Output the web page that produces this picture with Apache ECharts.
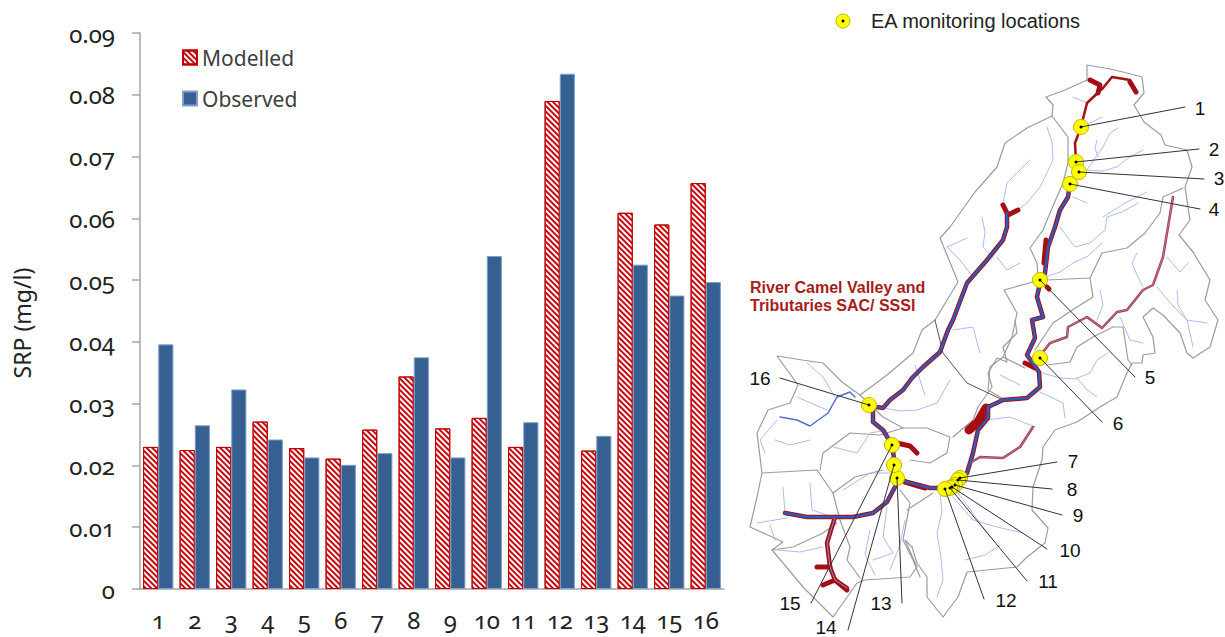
<!DOCTYPE html>
<html lang="en">
<head>
<meta charset="utf-8">
<script src="https://cdn.jsdelivr.net/npm/echarts@6/dist/echarts.min.js"></script>
<style>
    html, body { margin: 0; padding: 0; background: #fff; }
    #chart { width: 1225px; height: 637px; }
    #chart text { font-feature-settings: "onum"; font-variant-numeric: oldstyle-nums; }
</style>
</head>
<body>
<div id="chart"></div>
<script type="text/javascript">
    // bar chart values
    var categories = ['1', '2', '3', '4', '5', '6', '7', '8', '9', '10', '11', '12', '13', '14', '15', '16'];
    var modelled = [0.023, 0.0225, 0.023, 0.0271, 0.0228, 0.0211, 0.0258, 0.0344, 0.026, 0.0277, 0.023, 0.079, 0.0224, 0.0609, 0.059, 0.0657];
    var observed = [0.0396, 0.0265, 0.0323, 0.0242, 0.0213, 0.0201, 0.022, 0.0375, 0.0213, 0.0539, 0.027, 0.0834, 0.0248, 0.0525, 0.0475, 0.0497];

    // map, in map units (the map axes run 740-1225 / 0-637)
    var stations = [[1081, 127], [1076, 162], [1079, 172], [1070, 184], [1040, 280], [1040, 358], [960, 478], [958, 480],
        [955, 485], [952, 487], [950, 488], [945, 489], [897, 478], [894, 465], [892, 445], [869, 405]];
    var leaderEnds = [[1185, 107], [1199, 149], [1204, 179], [1200, 209], [1135, 377], [1102, 422], [1057, 462], [1052, 489],
        [1062, 515], [1047, 549], [1027, 581], [984, 599], [902, 603], [848, 630], [811, 603], [780, 378]];
    var stationLabels = [[1200, 108], [1214, 149], [1219, 178], [1214, 209], [1150, 377], [1118, 423], [1073, 461], [1072, 489],
        [1078, 515], [1070, 550], [1048, 581], [1006, 600], [881, 603], [826, 627], [790, 603], [760, 378]];

    var boundaries = [
        [[1087, 65], [1110, 69], [1123, 72], [1142, 77], [1144, 93], [1134, 105], [1144, 122], [1161, 135], [1165, 145], [1187, 150],
            [1192, 167], [1185, 187], [1188, 207], [1190, 220], [1179, 235], [1193, 252], [1210, 280], [1205, 300], [1218, 320],
            [1210, 347], [1193, 358], [1187, 353], [1180, 333], [1163, 315], [1153, 308], [1143, 317], [1153, 337], [1155, 353],
            [1143, 355], [1142, 363], [1132, 363], [1127, 373], [1117, 397], [1100, 407], [1077, 422], [1055, 430], [1043, 447],
            [1042, 460], [1033, 487], [1032, 510], [1048, 528], [1045, 543], [1027, 557], [1017, 567], [967, 572], [958, 597],
            [943, 617], [927, 597], [927, 577], [917, 563], [912, 547], [905, 540], [917, 567], [910, 577], [865, 580], [857, 583],
            [833, 617], [803, 587], [783, 563], [772, 550], [783, 542], [750, 527], [757, 497], [762, 473], [757, 433], [768, 410],
            [790, 403], [798, 385], [777, 356], [802, 360], [823, 363], [842, 382], [860, 395], [887, 375], [913, 353], [922, 330],
            [935, 320], [958, 282], [940, 238], [950, 227], [975, 192], [997, 167], [1005, 143], [1027, 128], [1052, 116], [1053, 105],
            [1046, 97], [1065, 90], [1087, 80], [1087, 65]],
        [[1052, 116], [1068, 137], [1068, 163], [1063, 183], [1050, 213], [1043, 230], [1030, 248], [1037, 263], [1038, 277], [1040, 280],
            [1004, 290], [1017, 313], [1012, 337], [1003, 357], [1025, 368]],
        [[1003, 357], [990, 367], [988, 390], [1005, 400]],
        [[1047, 280], [1090, 278], [1102, 253], [1127, 248], [1145, 233], [1160, 213], [1163, 197], [1183, 188]],
        [[1090, 278], [1093, 297], [1077, 307], [1053, 323], [1035, 350]],
        [[1047, 365], [1070, 362], [1077, 347], [1093, 337], [1113, 327], [1123, 327], [1128, 360], [1132, 365]],
        [[860, 395], [883, 417], [903, 428], [927, 428], [950, 437], [947, 453], [930, 463], [910, 460]],
        [[903, 428], [880, 435], [850, 433], [823, 453], [820, 470]],
        [[762, 473], [780, 472], [817, 470], [833, 493], [855, 477], [883, 470]],
        [[833, 493], [840, 520], [850, 547], [847, 560], [860, 578]],
        [[772, 550], [793, 547], [823, 533], [837, 523]],
        [[900, 490], [910, 503], [903, 540], [913, 560], [920, 577]],
        [[933, 493], [907, 510]],
        [[1015, 320], [1017, 333], [1003, 347], [1007, 362], [997, 358], [988, 373], [992, 387], [978, 407], [973, 420], [953, 437]]
    ];
    var sacLimit = [[935, 320], [943, 353], [967, 383], [1005, 401]];

    var tributaries = [
        [[1081, 127], [1092, 122], [1102, 117]], [[1087, 170], [1095, 158], [1103, 147], [1110, 133], [1118, 128]], [[1087, 170], [1102, 171], [1117, 167], [1128, 158], [1143, 150]], [[1097, 140], [1095, 148], [1098, 157]],
        [[1060, 227], [1068, 238], [1075, 247], [1090, 243], [1105, 230], [1107, 217], [1122, 212], [1138, 203]], [[1103, 217], [1125, 203], [1147, 192]], [[1073, 197], [1087, 203]],
        [[1045, 277], [1060, 272], [1073, 263], [1088, 256], [1102, 243]], [[1047, 127], [1052, 142], [1053, 160], [1040, 187], [1027, 203], [1010, 215]], [[1030, 160], [1007, 183], [1003, 203]],
        [[982, 217], [985, 232], [983, 247], [993, 258]], [[947, 247], [960, 260], [973, 277]], [[997, 257], [1007, 270], [1020, 263]], [[947, 247], [967, 238]],
        [[1073, 97], [1087, 103]], [[1137, 253], [1132, 263], [1137, 275], [1143, 287]], [[1167, 257], [1180, 272], [1188, 263]], [[1157, 287], [1172, 305], [1187, 320], [1193, 347]],
        [[1177, 290], [1178, 305], [1187, 320], [1207, 323]], [[1100, 290], [1103, 305], [1097, 320]], [[1120, 317], [1130, 340], [1143, 343]],
        [[1039, 372], [1060, 378], [1075, 379], [1090, 373], [1097, 360], [1108, 353]], [[1077, 378], [1087, 390], [1097, 397]], [[1040, 392], [1063, 403], [1065, 418]],
        [[987, 420], [1010, 417], [1035, 427]], [[883, 408], [900, 411], [917, 410], [937, 403], [950, 380]], [[953, 330], [973, 327], [980, 353]],
        [[940, 493], [942, 512], [937, 533], [941, 558], [943, 580], [937, 597]], [[953, 497], [973, 520], [997, 527], [1023, 533]], [[958, 493], [983, 527], [993, 540]],
        [[887, 430], [870, 433], [857, 453], [833, 447]], [[890, 473], [870, 473], [843, 490]], [[887, 507], [883, 537], [893, 553], [873, 560]],
        [[783, 487], [785, 513]], [[810, 483], [812, 510], [833, 517]], [[787, 518], [757, 523]], [[823, 547], [800, 552], [777, 550]],
        [[777, 420], [760, 440], [765, 453]], [[807, 363], [823, 377], [835, 397]], [[797, 397], [827, 410]],
        [[905, 520], [900, 545], [890, 570]], [[870, 530], [865, 555], [875, 575]], [[775, 440], [790, 445], [810, 440]], [[770, 525], [775, 540]],
        [[1000, 545], [985, 555], [965, 560]], [[915, 365], [925, 395]], [[1000, 375], [1020, 385]]
    ];
    var westStream = [[855, 397], [850, 392], [837, 397], [828, 413], [810, 426], [797, 420], [780, 417]];

    var upperRiver = [[1130, 80], [1112, 77], [1103, 88], [1087, 103], [1081, 127], [1075, 143], [1076, 162], [1078, 172], [1070, 183]];
    var lowerRiver = [[1070, 183], [1068, 197], [1060, 210], [1055, 227], [1048, 247], [1045, 273], [1040, 283], [1037, 297], [1043, 317], [1032, 320], [1035, 338], [1027, 355], [1039, 372],
        [1040, 387], [1027, 398], [1003, 400], [988, 407], [988, 418], [978, 430], [973, 453], [967, 473], [960, 479], [945, 488], [930, 488],
        [907, 482], [897, 478], [895, 465], [892, 445], [883, 430], [873, 422], [873, 408], [869, 406]];
    var nwRiver = [[869, 406], [883, 408], [890, 400], [903, 390], [912, 378], [923, 367], [940, 352], [948, 330], [953, 320], [967, 283], [987, 260], [1003, 240], [1007, 227], [1007, 213]];
    var westRiver = [[895, 487], [887, 502], [873, 513], [853, 517], [835, 517], [807, 517], [785, 513]];
    var southRiver = [[835, 517], [827, 543], [830, 567], [835, 580], [847, 588]];
    var thinRivers = [
        [[970, 463], [980, 457], [1003, 458], [1020, 447], [1033, 427]],
        [[1043, 352], [1050, 343], [1067, 337], [1068, 327], [1087, 317], [1102, 328], [1117, 312], [1127, 310], [1143, 290], [1153, 285], [1163, 257], [1173, 197]]
    ];
    var smallBlobs = [
        [[1130, 82], [1136, 92]], [[1003, 205], [1008, 215], [1018, 210]], [[1090, 80], [1100, 85], [1098, 93]], [[1025, 363], [1035, 368]],
        [[1047, 287], [1049, 289]], [[817, 567], [830, 567]], [[823, 585], [835, 580], [847, 590]], [[1046, 240], [1044, 263]],
        [[897, 443], [910, 446], [917, 453]], [[905, 482], [925, 488]]
    ];
    var bigBlobs = [[[986, 408], [978, 422], [969, 430]]];
    var keyStation = [[843, 21]];
    var keyText = [[871, 21]];
    var sacText = [[750, 296]];

    function pathSeries(paths, color, width, z) {
        return paths.map(function (p) {
            return {
                type: 'line', xAxisIndex: 1, yAxisIndex: 1, data: p, symbol: 'none', silent: true, animation: false, z: z,
                lineStyle: {color: color, width: width, join: 'round', cap: 'round'}
            };
        });
    }

    function pointSeries(points, size, color, border, z) {
        return {
            type: 'scatter', xAxisIndex: 1, yAxisIndex: 1, data: points, symbolSize: size, silent: true, animation: false, z: z,
            itemStyle: {color: color, borderColor: border, borderWidth: border ? 1 : 0, opacity: 1}
        };
    }

    function textSeries(points, texts, style) {
        return {
            type: 'scatter', xAxisIndex: 1, yAxisIndex: 1, symbolSize: 0, silent: true, animation: false, z: 8,
            itemStyle: {opacity: 1},
            data: points.map(function (p, i) { return {value: p, label: {formatter: texts[i]}}; }),
            label: Object.assign({show: true, position: 'inside', fontFamily: 'Liberation Sans'}, style)
        };
    }

    var leaders = stations.map(function (s, i) { return [s, leaderEnds[i]]; });

    var chart = echarts.init(document.getElementById('chart'), null, {renderer: 'svg'});
    var option = {
        animation: false,
        legend: {
            data: ['Modelled', 'Observed'], icon: 'rect', orient: 'vertical', left: 182, top: 47, padding: 0, itemWidth: 14, itemHeight: 14, itemGap: 20,
            textStyle: {fontFamily: 'Noto Sans', fontSize: 21, color: '#404040'}
        },
        grid: [
            {left: 140, right: 501, top: 33, bottom: 48},
            {left: 740, right: 0, top: 0, bottom: 0}
        ],
        xAxis: [
            {
                type: 'category', data: categories, gridIndex: 0,
                axisLine: {lineStyle: {color: '#a6a6a6', width: 1.5}},
                axisTick: {length: 8, lineStyle: {color: '#a6a6a6', width: 1.5}},
                axisLabel: {fontFamily: 'Noto Sans', fontSize: 24, color: '#222', margin: 18, interval: 0}
            },
            {type: 'value', gridIndex: 1, min: 740, max: 1225, show: false}
        ],
        yAxis: [
            {
                type: 'value', gridIndex: 0, min: 0, max: 0.09, interval: 0.01,
                name: 'SRP (mg/l)', nameLocation: 'middle', nameGap: 107,
                nameTextStyle: {fontFamily: 'Noto Sans', fontSize: 23, color: '#222', padding: [0, 24, 0, 0]},
                axisLine: {show: true, lineStyle: {color: '#a6a6a6', width: 1.5}},
                axisTick: {show: true, length: 8, lineStyle: {color: '#a6a6a6', width: 1.5}},
                axisLabel: {
                    fontFamily: 'Noto Sans', fontSize: 24, color: '#222', margin: 25,
                    formatter: function (v) { return v === 0 ? '0' : v.toFixed(2); }
                },
                splitLine: {show: false}
            },
            {type: 'value', gridIndex: 1, min: 0, max: 637, inverse: true, show: false}
        ],
        series: [
            {
                name: 'Modelled', type: 'bar', data: modelled, barCategoryGap: '17%', barGap: 0,
                itemStyle: {
                    color: '#fff', borderColor: '#c00000', borderWidth: 1,
                    decal: {
                        color: '#c8060c', symbol: 'rect', dashArrayX: [1, 0], dashArrayY: [2, 2], rotation: Math.PI / 4, symbolSize: 1
                    }
                }
            },
            {name: 'Observed', type: 'bar', data: observed, itemStyle: {color: '#376092', borderColor: '#7f9fc6', borderWidth: 1}}
        ]
            .concat(pathSeries(boundaries, '#9c9c9c', 1.2, 2))
            .concat(pathSeries([sacLimit], '#555', 1, 2))
            .concat(pathSeries(tributaries, '#aebcf0', 1, 2))
            .concat(pathSeries([westStream], '#4f70d4', 1.5, 2))
            .concat(pathSeries(smallBlobs, '#a50f14', 5, 3))
            .concat(pathSeries(bigBlobs, '#a50f14', 9, 3))
            .concat(pathSeries([upperRiver], '#a50f14', 2.5, 3))
            .concat(pathSeries([lowerRiver, nwRiver, westRiver, southRiver], '#a50f14', 4.5, 3))
            .concat(pathSeries(thinRivers, '#b5303a', 2.5, 3))
            .concat(pathSeries(thinRivers, '#8a94d8', 0.8, 4))
            .concat(pathSeries([southRiver], '#8a94d8', 1, 4))
            .concat(pathSeries([lowerRiver, nwRiver, westRiver], '#2f58b8', 2.5, 4))
            .concat([pointSeries(stations, 15, '#ffff00', '#c4b400', 5)])
            .concat(pathSeries(leaders, '#333', 1, 6))
            .concat([pointSeries(stations, 3, '#000', null, 7)])
            .concat([pointSeries(keyStation, 14, '#ffff00', '#c4b400', 5), pointSeries(keyStation, 3, '#000', null, 7)])
            .concat([
                textSeries(stationLabels, categories, {fontSize: 19, color: '#111'}),
                textSeries(keyText, ['EA monitoring locations'], {fontSize: 20, color: '#222', align: 'left'}),
                textSeries(sacText, ['River Camel Valley and\nTributaries SAC/ SSSI'],
                    {fontSize: 16, fontWeight: 'bold', color: '#a81c1c', lineHeight: 18, align: 'left'})
            ])
    };
    chart.setOption(option);
</script>
</body>
</html>
